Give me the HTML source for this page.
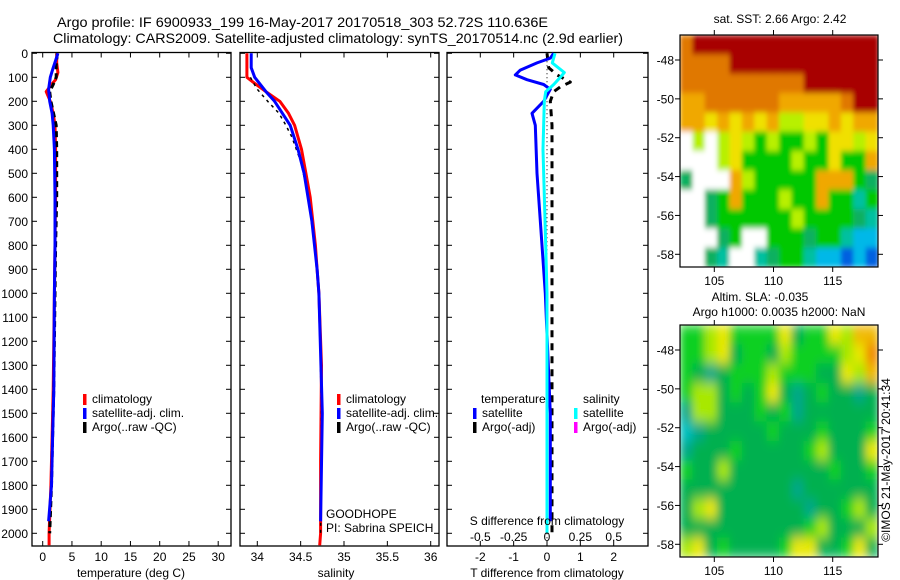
<!DOCTYPE html>
<html><head><meta charset="utf-8"><style>
html,body{margin:0;padding:0;background:#fff;}
svg{display:block;font-family:"Liberation Sans",sans-serif;}
</style></head><body>
<svg id="fig" width="900" height="580" viewBox="0 0 900 580" xmlns="http://www.w3.org/2000/svg">
<rect width="900" height="580" fill="#fff"/>
<text x="57" y="27" font-size="14" textLength="491" lengthAdjust="spacingAndGlyphs">Argo profile: IF 6900933_199 16-May-2017 20170518_303 52.72S 110.636E</text>
<text x="53" y="43" font-size="14" textLength="570" lengthAdjust="spacingAndGlyphs">Climatology: CARS2009. Satellite-adjusted climatology: synTS_20170514.nc (2.9d earlier)</text>
<g id="plots"></g>
</svg>
<script>
// ---- data ----
var depthTicks=[0,100,200,300,400,500,600,700,800,900,1000,1100,1200,1300,1400,1500,1600,1700,1800,1900,2000];
var tempTicks=[0,5,10,15,20,25,30];
var salTicks=[34,34.5,35,35.5,36];
var salTickLabels=["34","34.5","35","35.5","36"];
var tdiffTicks=[-2,-1,0,1,2];
var sdiffTicks=[-0.5,-0.25,0,0.25,0.5];
var sdiffTickLabels=["-0.5","-0.25","0","0.25","0.5"];

var tClimDepth=[0,40,80,110,130,160,200,250,300,400,600,800,1000,1200,1400,1600,1800,2000,2050];
var tClimVal=[2.4,2.4,2.6,2.2,1.5,0.6,1.3,1.8,2.1,2.2,2.2,2.1,2.0,1.9,1.8,1.6,1.4,1.1,1.1];
var tArgoDepth=[0,50,100,130,160,200,300,400,500,600,800,1000,1200,1400,1600,1800,2000];
var tArgoVal=[2.5,2.3,2.3,1.8,1.2,1.4,2.3,2.4,2.4,2.4,2.2,2.1,2.0,1.9,1.7,1.5,1.2];
var tSatDepth=[0,30,60,100,150,200,250,300,400,600,800,1000,1200,1400,1600,1800,1950];
var tSatVal=[2.6,2.2,1.8,1.3,1.0,1.2,1.6,1.8,2.0,2.1,2.1,2.0,1.95,1.9,1.7,1.5,1.0];

var sClimDepth=[0,100,120,160,200,250,300,400,500,600,700,800,900,1000,1300,1700,2000,2050];
var sClimVal=[33.88,33.88,33.95,34.1,34.26,34.36,34.43,34.51,34.56,34.61,34.64,34.67,34.69,34.71,34.74,34.73,34.73,34.72];
var sSatDepth=[0,60,100,160,200,300,400,500,700,900,1000,1500,1950];
var sSatVal=[33.93,33.93,33.97,34.1,34.2,34.38,34.47,34.54,34.63,34.69,34.71,34.75,34.73];
var sArgoDepth=[100,120,150,200,250,300,350,450,600,900,1000,1500,2000];
var sArgoVal=[33.92,33.95,34.0,34.12,34.25,34.33,34.4,34.5,34.59,34.69,34.71,34.74,34.73];

var tdSatDepth=[0,20,40,70,90,110,130,150,200,250,300,500,800,1000,1500,1950];
var tdSatVal=[0.2,0.1,-0.3,-0.8,-0.95,-0.6,-0.1,0.1,-0.1,-0.45,-0.35,-0.3,-0.15,-0.05,0.1,0.1];
var sdSatDepth=[0,40,80,100,130,160,200,400,800,1000,2000];
var sdSatVal=[0.06,0.04,0.13,0.1,0.05,-0.01,-0.02,-0.03,-0.01,0.0,0.0];
var tdArgoDepth=[0,60,90,120,140,160,200,300,500,1000,1500,2000];
var tdArgoVal=[0,0.05,0.3,0.7,0.4,0.2,0.1,0.15,0.15,0.15,0.15,0.15];

var latTicks=[-48,-50,-52,-54,-56,-58];
var lonTicks=[105,110,115];
var sstGrid=[
"ORRRRRRRRRRRRRRR",
"OOOORRRRRRRRRRRR",
"OOOOOOOOOORRRRRR",
"ooOOOOOOoooooORR",
"ooYoYoYoyyYYoYoo",
"WyWyYyGyGGyGYYyY",
"WWWyYGGGGyGGYGGo",
"gWWWoyGGGGGoooGg",
"WWgGoGGGyGGoGGTG",
"WWgGGGGGGyGGGGgT",
"WWWgGWWGGGgGGTCC",
"WWgTWWTgGGTCCBCB"];
var slaGrid=[
"GGyYGGGGYgGGYyoo",
"GGyYgGGgyGGGGyYO",
"GgTgGGGyGGGggYyo",
"GyygGgGYgTgGggTg",
"TyygggGgGTgggggg",
"CTgggggGgggGgggG",
"TgggGgggggGygggY",
"GggyggggggggGggG",
"gggggggggTgggggg",
"gyYgggggggTggGyg",
"ggggggggggGygggy",
"yYgGggggGYYggGYg"];

// ---- drawing ----
var NS="http://www.w3.org/2000/svg";
var root=document.getElementById('plots');
function mk(tag,attrs,parent){var e=document.createElementNS(NS,tag);for(var k in attrs)e.setAttribute(k,attrs[k]);(parent||root).appendChild(e);return e;}
function txt(s,x,y,size,anchor,parent){var t=mk('text',{x:x,y:y,'font-size':size,'text-anchor':anchor||'start'},parent);t.textContent=s;return t;}
var yTop=52.5,yBot=546;
function yD(d){return 53.3+d*0.24;}

function panel(name,x0,x1,xs,xticks,xlabels,showDepth){
  var g=mk('g',{});
  
  
  mk('rect',{x:x0,y:yTop,width:x1-x0,height:yBot-yTop,fill:'none',stroke:'#000','stroke-width':1.3},g);
  depthTicks.forEach(function(d){var y=yD(d);mk('line',{x1:x0,x2:x0+5,y1:y,y2:y,stroke:'#000'},g);mk('line',{x1:x1,x2:x1-5,y1:y,y2:y,stroke:'#000'},g);
    if(showDepth){var t=txt(String(d),28,y+4.5,12,'end',g);}});
  xticks.forEach(function(v,i){var x=xs(v);mk('line',{x1:x,x2:x,y1:yTop,y2:yTop+5,stroke:'#000'},g);mk('line',{x1:x,x2:x,y1:yBot,y2:yBot-5,stroke:'#000'},g);
    if(xlabels){var t=txt(xlabels[i],x,561,12,'middle',g);}});
  return g;
}
function line(g,name,xs,depths,vals,color,w,dash){
  var d='';for(var i=0;i<depths.length;i++){d+=(i?'L':'M')+xs(vals[i]).toFixed(1)+' '+yD(depths[i]).toFixed(1);}
  var p=mk('path',{d:d,fill:'none',stroke:color,'stroke-width':w,'stroke-linejoin':'round'},g);
  if(dash)p.setAttribute('stroke-dasharray',dash);
  
  
}
function legend(g,x,y,items){
  items.forEach(function(it,i){mk('rect',{x:x,y:y+i*14-9,width:3.5,height:11,fill:it[1]},g);var t=txt(it[0],x+9,y+i*14,12,'start',g);
    });
}

// temperature panel
var xT=function(v){return 42.7+v*5.85;};
var gT=panel('temperature-panel',32,231,xT,tempTicks,tempTicks.map(String),true);
line(gT,'temp-climatology-line',xT,tClimDepth,tClimVal,'#f00',3);
line(gT,'temp-argo-line',xT,tArgoDepth,tArgoVal,'#000',3,'6 4');
line(gT,'temp-satellite-line',xT,tSatDepth,tSatVal,'#00f',3);
legend(gT,83,403,[['climatology','#f00'],['satellite-adj. clim.','#00f'],['Argo(..raw -QC)','#000']]);
var t1=txt('temperature (deg C)',131,577,12,'middle',gT);

// salinity panel
var xS=function(v){return 257.3+(v-34)*86.7;};
var gS=panel('salinity-panel',240,439,xS,salTicks,salTickLabels,false);
line(gS,'sal-climatology-line',xS,sClimDepth,sClimVal,'#f00',3);
line(gS,'sal-argo-line',xS,sArgoDepth,sArgoVal,'#000',1.5,'3 4');
line(gS,'sal-satellite-line',xS,sSatDepth,sSatVal,'#00f',3);
legend(gS,337,403,[['climatology','#f00'],['satellite-adj. clim.','#00f'],['Argo(..raw -QC)','#000']]);
var t2=txt('salinity',336,577,12,'middle',gS);
var t3=txt('GOODHOPE',326,518,12,'start',gS);
var t4=txt('PI: Sabrina SPEICH',326,532,12,'start',gS);

// difference panel
var xTD=function(v){return 547+v*33.35;};
var xSD=function(v){return 547+v*133.4;};
var gD=panel('difference-panel',447,648,xTD,tdiffTicks,tdiffTicks.map(String),false);
line(gD,'argo-zero-line',xTD,[0,2050],[0,0],'#000',1,'1 3');
line(gD,'tdiff-argo-line',xTD,tdArgoDepth,tdArgoVal,'#000',3,'7 6');
line(gD,'tdiff-satellite-line',xTD,tdSatDepth,tdSatVal,'#00f',3);
line(gD,'sdiff-satellite-line',xSD,sdSatDepth,sdSatVal,'#0ff',3);
var lt=txt('temperature',481,403,12,'start',gD);
var ls=txt('salinity',583,403,12,'start',gD);
legend(gD,473,417,[['satellite','#00f'],['Argo(-adj)','#000']]);
legend(gD,574,417,[['satellite','#0ff'],['Argo(-adj)','#f0f']]);
sdiffTicks.forEach(function(v,i){var t=txt(sdiffTickLabels[i],xSD(v),541,12,'middle',gD);});
var t5=txt('S difference from climatology',547,525,12,'middle',gD);
var t6=txt('T difference from climatology',547,577,12,'middle',gD);

// maps
var sstCol={R:'#a80000',O:'#e07800',o:'#f0a800',Y:'#f0e000',y:'#b8f000',G:'#00c800',g:'#10b060',T:'#00c0a0',C:'#00b8e8',B:'#0060e0',W:'#ffffff'};
var slaCol={G:'#10d020',g:'#00b050',T:'#00a888',C:'#00c0c0',y:'#a8e800',Y:'#e8e800',o:'#f0b800',O:'#f08800'};
var defs=mk('defs',{});
var f=mk('filter',{id:'blur',x:'-0.1',y:'-0.1',width:'1.2',height:'1.2'},defs);mk('feGaussianBlur',{stdDeviation:'4 6'},f);
var f2=mk('filter',{id:'blur2',x:'-0.05',y:'-0.05',width:'1.1',height:'1.1'},defs);mk('feGaussianBlur',{stdDeviation:'2 3'},f2);
function map(name,y0,y1,lat48,lat58,grid,cols,filt){
  var x0=680,x1=878;
  var g=mk('g',{});
  
  
  var cw=(x1-x0)/grid[0].length,ch=(y1-y0)/grid.length;
  var cp=mk('clipPath',{id:'clip'+name},defs);mk('rect',{x:x0,y:y0,width:x1-x0,height:y1-y0},cp);
  var clip=mk('g',{'clip-path':'url(#clip'+name+')'},g);
  var cg=mk('g',{filter:'url(#'+filt+')'},clip);
  grid.forEach(function(row,r){for(var c=0;c<row.length;c++){var cell=mk('rect',{x:x0+c*cw,y:y0+r*ch,width:cw+0.6,height:ch+0.6,fill:cols[row[c]]},cg);
    
    }});
  mk('rect',{x:x0,y:y0,width:x1-x0,height:y1-y0,fill:'none',stroke:'#000','stroke-width':1.2},g);
  var yL=function(l){return lat48+(l+48)/(-10)*(lat58-lat48);};
  var xL=function(l){return 714.3+(l-105)*11.84;};
  latTicks.forEach(function(l){var y=yL(l);mk('line',{x1:x0-5,x2:x0,y1:y,y2:y,stroke:'#000'},g);mk('line',{x1:x1,x2:x1+5,y1:y,y2:y,stroke:'#000'},g);
    var t=txt(String(l),674,y+4.5,12,'end',g);});
  lonTicks.forEach(function(l){var x=xL(l);mk('line',{x1:x,x2:x,y1:y0-5,y2:y0,stroke:'#000'},g);mk('line',{x1:x,x2:x,y1:y1,y2:y1+5,stroke:'#000'},g);
    var t=txt(String(l),x,y1+18,12,'middle',g);});
}
map('sst-map',35,267,60,254.3,sstGrid,sstCol,'blur2');
map('sla-map',325,557,350,544.3,slaGrid,slaCol,'blur');
var m1=txt('sat. SST: 2.66 Argo: 2.42',780,23,12,'middle');
var m2=txt('Altim. SLA: -0.035',760,301,12,'middle');
var m3=txt('Argo h1000: 0.0035 h2000: NaN',779,316,12,'middle');
var cr=txt('©IMOS 21-May-2017 20:41:34',0,0,12,'middle');cr.setAttribute('transform','translate(890,460) rotate(-90)');


</script>
</body></html>
